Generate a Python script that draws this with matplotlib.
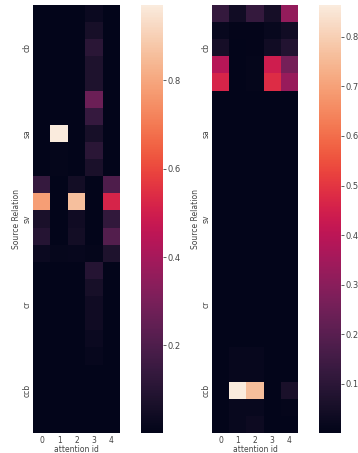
import numpy as np
import matplotlib
matplotlib.use("Agg")
import matplotlib.pyplot as plt
import seaborn as sns

relations = ["cb", "sa", "sv", "cr", "ccb"]
attention_ids = [0, 1, 2, 3, 4]
rows_per_relation = 5

# attention weights per source row (5 rows per relation) x attention head
weights_a = [
    [0.004, 0.004, 0.004, 0.030, 0.004],
    [0.004, 0.004, 0.004, 0.060, 0.004],
    [0.004, 0.004, 0.004, 0.110, 0.004],
    [0.004, 0.004, 0.004, 0.080, 0.004],
    [0.004, 0.004, 0.004, 0.080, 0.004],
    [0.004, 0.004, 0.004, 0.270, 0.004],
    [0.004, 0.004, 0.004, 0.140, 0.004],
    [0.004, 0.970, 0.004, 0.060, 0.004],
    [0.004, 0.010, 0.004, 0.110, 0.004],
    [0.004, 0.010, 0.004, 0.070, 0.004],
    [0.140, 0.004, 0.050, 0.004, 0.200],
    [0.780, 0.004, 0.860, 0.004, 0.520],
    [0.070, 0.004, 0.040, 0.004, 0.130],
    [0.100, 0.004, 0.050, 0.004, 0.210],
    [0.030, 0.015, 0.020, 0.010, 0.080],
    [0.004, 0.004, 0.004, 0.100, 0.004],
    [0.004, 0.004, 0.004, 0.060, 0.004],
    [0.004, 0.004, 0.004, 0.040, 0.004],
    [0.004, 0.004, 0.004, 0.040, 0.004],
    [0.004, 0.004, 0.004, 0.030, 0.004],
    [0.004, 0.004, 0.004, 0.020, 0.004],
    [0.004, 0.004, 0.004, 0.004, 0.004],
    [0.004, 0.004, 0.004, 0.004, 0.004],
    [0.004, 0.004, 0.004, 0.004, 0.004],
    [0.002, 0.004, 0.004, 0.004, 0.004],
]

weights_b = [
    [0.120, 0.040, 0.120, 0.050, 0.320],
    [0.020, 0.005, 0.005, 0.020, 0.040],
    [0.050, 0.003, 0.005, 0.040, 0.080],
    [0.390, 0.003, 0.010, 0.440, 0.260],
    [0.460, 0.003, 0.010, 0.480, 0.330],
    [0.002, 0.002, 0.002, 0.002, 0.002],
    [0.002, 0.002, 0.002, 0.002, 0.002],
    [0.002, 0.002, 0.002, 0.002, 0.002],
    [0.002, 0.002, 0.002, 0.002, 0.002],
    [0.002, 0.002, 0.002, 0.002, 0.002],
    [0.002, 0.002, 0.002, 0.002, 0.002],
    [0.002, 0.002, 0.002, 0.002, 0.002],
    [0.002, 0.002, 0.002, 0.002, 0.002],
    [0.002, 0.002, 0.002, 0.002, 0.002],
    [0.002, 0.002, 0.002, 0.002, 0.002],
    [0.002, 0.002, 0.002, 0.002, 0.002],
    [0.002, 0.002, 0.002, 0.002, 0.002],
    [0.002, 0.002, 0.002, 0.002, 0.002],
    [0.002, 0.002, 0.002, 0.002, 0.002],
    [0.002, 0.002, 0.002, 0.002, 0.002],
    [0.002, 0.015, 0.015, 0.002, 0.004],
    [0.002, 0.015, 0.015, 0.002, 0.004],
    [0.002, 0.864, 0.760, 0.002, 0.060],
    [0.002, 0.020, 0.020, 0.002, 0.010],
    [0.001, 0.020, 0.030, 0.002, 0.004],
]

text_color = "#444444"
plt.rcParams.update({
    "font.family": ["DejaVu Sans"],
    "font.size": 5.5,
    "text.color": text_color,
    "axes.labelcolor": text_color,
    "xtick.color": text_color,
    "ytick.color": text_color,
})

W, H = 358, 453
fig = plt.figure(figsize=(W / 100, H / 100), dpi=100)


def frac(x0, x1, y0, y1):
    return [x0 / W, 1 - y1 / H, (x1 - x0) / W, (y1 - y0) / H]


panels = [
    (weights_a, frac(33, 120, 5, 433), frac(141, 163, 5, 433)),
    (weights_b, frac(212, 298, 5, 433), frac(319, 341, 5, 433)),
]

ytick_pos = [i * rows_per_relation + rows_per_relation // 2 + 0.5
             for i in range(len(relations))]

for data, ax_rect, cb_rect in panels:
    ax = fig.add_axes(ax_rect)
    cax = fig.add_axes(cb_rect)
    sns.heatmap(np.array(data), ax=ax, cbar_ax=cax, cmap="rocket",
                xticklabels=attention_ids, yticklabels=False)
    ax.set_yticks(ytick_pos)
    ax.set_yticklabels(relations, rotation=90, va="center", fontsize=5.5)
    ax.set_xticklabels([str(a) for a in attention_ids], rotation=0, fontsize=5.5)
    ax.tick_params(axis="x", length=0, pad=2)
    ax.tick_params(axis="y", length=0, pad=1)
    ax.set_xlabel("attention id", fontsize=5.5, labelpad=0)
    ax.set_ylabel("Source Relation", fontsize=5.5, labelpad=1)
    cax.tick_params(length=2, width=0.6, labelsize=6, pad=1)
    for s in cax.spines.values():
        s.set_visible(False)

fig.savefig("out.png", dpi=100)
